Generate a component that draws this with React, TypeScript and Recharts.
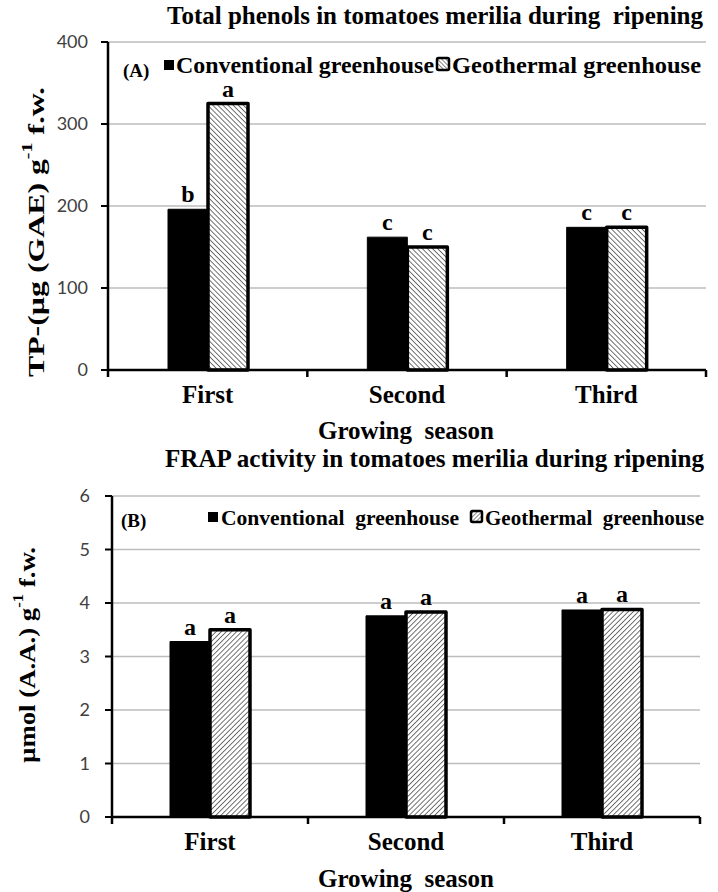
import React from 'react';
import {BarChart, Bar, XAxis, YAxis, CartesianGrid, LabelList} from 'recharts';

// values
const seasons = ['First', 'Second', 'Third'];
const phenolConv = [196, 162, 174];
const phenolGeo = [325, 150, 174];
const phenolConvLetters = ['b', 'c', 'c'];
const phenolGeoLetters = ['a', 'c', 'c'];
const phenolTicks = [0, 100, 200, 300, 400];

const frapConv = [3.28, 3.76, 3.87];
const frapGeo = [3.5, 3.83, 3.88];
const frapConvLetters = ['a', 'a', 'a'];
const frapGeoLetters = ['a', 'a', 'a'];
const frapTicks = [0, 1, 2, 3, 4, 5, 6];

const serif = '"Liberation Serif", "Times New Roman", serif';

const phenolData = seasons.map((s, i) => ({
    season: s, conv: phenolConv[i], geo: phenolGeo[i],
    convL: phenolConvLetters[i], geoL: phenolGeoLetters[i],
}));
const frapData = seasons.map((s, i) => ({
    season: s, conv: frapConv[i], geo: frapGeo[i],
    convL: frapConvLetters[i], geoL: frapGeoLetters[i],
}));

const CatTick = (props: any) => {
    const {x, y, payload, index, fallbackHalf} = props;
    const half = payload && payload.offset ? payload.offset : fallbackHalf;
    return (
        <g>
            <line x1={x - half} y1={y} x2={x - half} y2={y + 7} stroke="#000" strokeWidth={2.5}/>
            {index === seasons.length - 1 &&
                <line x1={x + half} y1={y} x2={x + half} y2={y + 7} stroke="#000" strokeWidth={2.5}/>}
            <text x={x} y={y + 24} textAnchor="middle" dominantBaseline="central"
                  fontFamily={serif} fontWeight="bold" fontSize={25} fill="#000">
                {payload.value}
            </text>
        </g>
    );
};

const letterLabel = (props: any) => {
    const {x, y, width, value} = props;
    return (
        <text x={x + width / 2} y={y - 7} textAnchor="middle" fontFamily={serif}
              fontWeight="bold" fontSize={24} fill="#000">{value}</text>
    );
};

const tickStyle = {fontFamily: 'Lato, "Open Sans", sans-serif', fontSize: 18, fill: '#404040'};

interface PanelProps {
    data: any[];
    ticks: number[];
    max: number;
    patternId: string;
    rotate: number;
    top: number;
    height: number;
    marginTop: number;
    yWidth: number;
    marginRight: number;
    tickMargin: number;
}

const Panel: React.FC<PanelProps> = (p) => (
    <div style={{position: 'absolute', left: 0, top: p.top}}>
        <BarChart width={718} height={p.height} data={p.data} barGap={0} barSize={40}
                  margin={{top: p.marginTop, right: p.marginRight, left: 0, bottom: 0}}>
            <defs>
                <pattern id={p.patternId} patternUnits="userSpaceOnUse" width={3.6} height={3.6}
                         patternTransform={`rotate(${p.rotate})`}>
                    <rect width={3.6} height={3.6} fill="#fff"/>
                    <line x1={0} y1={0} x2={0} y2={3.6} stroke="#444" strokeWidth={1.5}/>
                </pattern>
            </defs>
            <CartesianGrid vertical={false} stroke="#bdbdbd" strokeWidth={1.5}/>
            <XAxis dataKey="season" height={75} tickLine={false} tickSize={0} tickMargin={0}
                   axisLine={{stroke: '#000', strokeWidth: 2.5}}
                   tick={<CatTick fallbackHalf={(718 - p.yWidth - p.marginRight) / 6}/>}/>
            <YAxis domain={[0, p.max]} ticks={p.ticks} width={p.yWidth} tickSize={7}
                   tickMargin={p.tickMargin} interval={0}
                   axisLine={{stroke: '#000', strokeWidth: 2.5}}
                   tickLine={{stroke: '#000', strokeWidth: 2}} tick={tickStyle}/>
            <Bar dataKey="conv" fill="#000" stroke="#000" strokeWidth={1} isAnimationActive={false}>
                <LabelList dataKey="convL" content={letterLabel}/>
            </Bar>
            <Bar dataKey="geo" fill={`url(#${p.patternId})`} stroke="#000" strokeWidth={3.5}
                 strokeLinejoin="round" isAnimationActive={false}>
                <LabelList dataKey="geoL" content={letterLabel}/>
            </Bar>
        </BarChart>
    </div>
);

const txt = {fontFamily: serif, fontWeight: 'bold' as const, fill: '#000', whiteSpace: 'pre' as const};

const App: React.FC = () => (
    <div style={{position: 'relative', width: 718, height: 892, background: '#fff'}}>
        <style>{`body{margin:0}`}</style>
        <Panel data={phenolData} ticks={phenolTicks} max={400} patternId="hatchA" rotate={-45}
               top={0} height={445} marginTop={42} yWidth={108} marginRight={12} tickMargin={13}/>
        <Panel data={frapData} ticks={frapTicks} max={6} patternId="hatchB" rotate={45}
               top={445} height={447} marginTop={51} yWidth={112} marginRight={18} tickMargin={15}/>

        <svg width={718} height={892} style={{position: 'absolute', left: 0, top: 0, pointerEvents: 'none'}}>
            <defs>
                <pattern id="legA" patternUnits="userSpaceOnUse" width={3} height={3} patternTransform="rotate(-45)">
                    <rect width={3} height={3} fill="#fff"/>
                    <line x1={0} y1={0} x2={0} y2={3} stroke="#444" strokeWidth={1.3}/>
                </pattern>
                <pattern id="legB" patternUnits="userSpaceOnUse" width={3} height={3} patternTransform="rotate(45)">
                    <rect width={3} height={3} fill="#fff"/>
                    <line x1={0} y1={0} x2={0} y2={3} stroke="#444" strokeWidth={1.3}/>
                </pattern>
            </defs>

            {/* panel A texts */}
            <text x={167} y={15} dominantBaseline="central" fontSize={25} textLength={536}
                  lengthAdjust="spacingAndGlyphs" style={txt}>
                Total phenols in tomatoes merilia during  ripening
            </text>
            <text x={123} y={70} dominantBaseline="central" fontSize={19} style={txt}>(A)</text>
            <rect x={164} y={60} width={10} height={10} fill="#000"/>
            <text x={176} y={65} dominantBaseline="central" fontSize={24} textLength={258}
                  lengthAdjust="spacingAndGlyphs" style={txt}>Conventional greenhouse</text>
            <rect x={437} y={58} width={12} height={12} fill="url(#legA)" stroke="#000" strokeWidth={2.5} rx={1.5}/>
            <text x={452} y={65} dominantBaseline="central" fontSize={24} textLength={249}
                  lengthAdjust="spacingAndGlyphs" style={txt}>Geothermal greenhouse</text>
            <text x={406} y={430} textAnchor="middle" dominantBaseline="central" fontSize={25} style={txt}>
                Growing  season
            </text>
            <text transform="translate(36,232) rotate(-90)" textAnchor="middle" dominantBaseline="central"
                  fontSize={24} textLength={290} lengthAdjust="spacingAndGlyphs" style={txt}>
                TP-(µg (GAE) g<tspan dy={-9} fontSize={15}>-1</tspan><tspan dy={9}> f.w.</tspan>
            </text>

            {/* panel B texts */}
            <text x={165} y={458} dominantBaseline="central" fontSize={25} textLength={539}
                  lengthAdjust="spacingAndGlyphs" style={txt}>
                FRAP activity in tomatoes merilia during ripening
            </text>
            <text x={121} y={520} dominantBaseline="central" fontSize={19} style={txt}>(B)</text>
            <rect x={208} y={512} width={10} height={10} fill="#000"/>
            <text x={221} y={517} dominantBaseline="central" fontSize={22} textLength={238}
                  lengthAdjust="spacingAndGlyphs" style={txt}>Conventional  greenhouse</text>
            <rect x={471} y={511} width={11} height={11} fill="url(#legB)" stroke="#000" strokeWidth={2.5} rx={1.5}/>
            <text x={485} y={517} dominantBaseline="central" fontSize={22} textLength={219}
                  lengthAdjust="spacingAndGlyphs" style={txt}>Geothermal  greenhouse</text>
            <text x={406} y={878} textAnchor="middle" dominantBaseline="central" fontSize={25} style={txt}>
                Growing  season
            </text>
            <text transform="translate(27,655) rotate(-90)" textAnchor="middle" dominantBaseline="central"
                  fontSize={24} textLength={216} lengthAdjust="spacingAndGlyphs" style={txt}>
                µmol (A.A.) g<tspan dy={-9} fontSize={15}>-1</tspan><tspan dy={9}> f.w.</tspan>
            </text>
        </svg>
    </div>
);

export default App;
